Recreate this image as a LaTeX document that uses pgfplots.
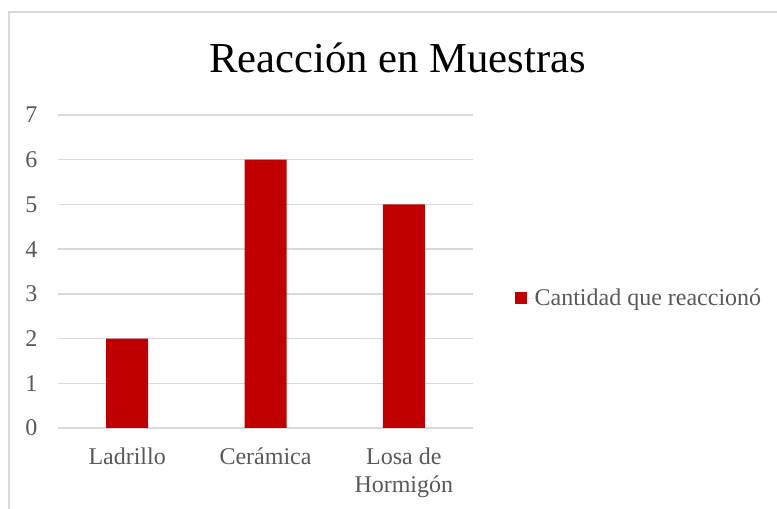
\documentclass[border=0pt]{standalone}
\usepackage{pgfplots}
\pgfplotsset{compat=1.18}
\usepackage{fontspec}
\setmainfont{Liberation Serif}
\definecolor{barred}{HTML}{C00000}
\definecolor{txt}{HTML}{595959}
\definecolor{gridc}{HTML}{D9D9D9}
\begin{document}
\begin{tikzpicture}[x=1pt,y=1pt]
\useasboundingbox (0,0) rectangle (582.75,381.75);
\draw[gridc, line width=1.5pt] (6.4,-2) -- (6.4,372.4) -- (585,372.4);
\node[black, anchor=base, inner sep=0pt, font=\fontsize{32}{38}\selectfont] at (298.1,327) {Reacción en Muestras};
\begin{axis}[
  at={(43.5pt,60.75pt)}, anchor=south west,
  scale only axis, width=311.25pt, height=234.75pt,
  xmin=-0.5, xmax=2.5, ymin=0, ymax=7,
  ytick={0,1,2,3,4,5,6,7},
  xtick={0,1,2},
  xticklabels={Ladrillo, Cerámica, {Losa de\\Hormigón}},
  axis line style={draw=none},
  major tick length=0pt,
  ymajorgrids, grid style={gridc, line width=1pt},
  extra y ticks={0}, extra y tick labels={},
  extra y tick style={grid style={gridc, line width=1.2pt}},
  /pgf/number format/assume math mode=true,
  tick label style={txt, font=\fontsize{18}{21}\selectfont},
  xticklabel style={align=center, anchor=north, yshift=-11pt},
  yticklabel style={anchor=east, xshift=-12pt},
  legend style={at={(1.0964,0.415)}, anchor=west, draw=none, fill=none,
    inner sep=0pt, font=\fontsize{18}{21}\selectfont, text=txt,
    legend cell align=left, nodes={inner sep=1pt}},
  legend image code/.code={\fill[#1] (1.5pt,-4.5pt) rectangle (10.5pt,4.5pt);
    \path (0pt,0pt) -- (15pt,0pt);},
]
\addplot[ybar, bar width=31.5pt, fill=barred, draw=none] coordinates {(0,2) (1,6) (2,5)};
\addlegendentry{Cantidad que reaccionó}
\end{axis}
\end{tikzpicture}
\end{document}
